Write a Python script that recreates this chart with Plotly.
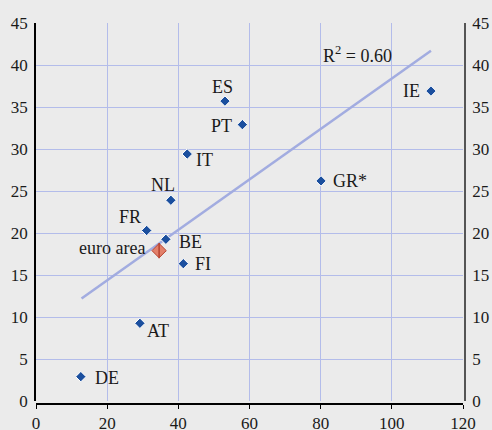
import plotly.graph_objects as go

# Data
countries = ["DE", "AT", "FR", "BE", "FI", "NL", "IT", "ES", "PT", "GR*", "IE"]
x_vals = [12.6, 29.2, 31.1, 36.5, 41.4, 37.9, 42.5, 53.1, 58.0, 80.1, 111.0]
y_vals = [2.9, 9.25, 20.3, 19.25, 16.35, 23.9, 29.4, 35.7, 32.9, 26.2, 36.9]

ea_label = ["euro area"]
ea_x = [34.6]
ea_y = [17.9]

trend_x = [12.8, 111.0]
trend_y = [12.2, 41.7]

r2_text = "R<sup>2</sup> = 0.60"
r2_pos = [90.4, 41.3]

x_ticks = [0, 20, 40, 60, 80, 100, 120]
y_ticks = [0, 5, 10, 15, 20, 25, 30, 35, 40, 45]

# label offsets in pixels (dx right, dy down)
label_offsets = {
    "DE": (26, 1), "AT": (18, 8), "FR": (-17, -13), "BE": (25, 3),
    "FI": (20, 0), "NL": (-8, -15), "IT": (17, 6), "ES": (-2, -14),
    "PT": (-21, 1), "GR*": (29, 0), "IE": (-19, 0),
}

FONT = "Liberation Serif"
FS = 18
TFS = 17
BG = "#EBEBEB"
GRID = "#B3BCEA"
BLUE = "#1B4F9E"
TXT = "#1a1a1a"

fig = go.Figure()

fig.add_trace(go.Scatter(
    x=trend_x, y=trend_y, mode="lines",
    line=dict(color="#A2ACE0", width=2.5), hoverinfo="skip", showlegend=False))

fig.add_trace(go.Scatter(
    x=x_vals, y=y_vals, mode="markers",
    marker=dict(symbol="diamond", size=8, color=BLUE,
                line=dict(color="white", width=1)),
    showlegend=False))

fig.add_trace(go.Scatter(
    x=ea_x, y=ea_y, mode="markers",
    marker=dict(symbol="diamond", size=11, color="#E2806A",
                line=dict(color="#B8422F", width=1)),
    showlegend=False))
fig.add_trace(go.Scatter(
    x=ea_x, y=ea_y, mode="markers",
    marker=dict(symbol="line-ns", size=11,
                line=dict(color="#B8422F", width=1.5)),
    showlegend=False, hoverinfo="skip"))

# dummy trace for right axis
fig.add_trace(go.Scatter(x=[0], y=[0], yaxis="y2", mode="markers",
                         marker=dict(opacity=0), showlegend=False, hoverinfo="skip"))

annotations = []
for c, xv, yv in zip(countries, x_vals, y_vals):
    dx, dy = label_offsets[c]
    annotations.append(dict(x=xv, y=yv, text=c, showarrow=False,
                            xanchor="center", yanchor="middle",
                            xshift=dx, yshift=-dy,
                            font=dict(family=FONT, size=FS, color=TXT)))
annotations.append(dict(x=ea_x[0], y=ea_y[0], text=ea_label[0], showarrow=False,
                        xanchor="right", yanchor="middle", xshift=-12, yshift=3,
                        font=dict(family=FONT, size=FS, color=TXT)))
annotations.append(dict(x=r2_pos[0], y=r2_pos[1], text=r2_text, showarrow=False,
                        xanchor="center", yanchor="middle",
                        font=dict(family=FONT, size=FS, color=TXT)))

fig.update_layout(
    width=492, height=430,
    paper_bgcolor=BG, plot_bgcolor=BG,
    margin=dict(l=36, r=27, t=23, b=26),
    showlegend=False,
    annotations=annotations,
    font=dict(family=FONT, size=FS, color=TXT),
    xaxis=dict(range=[0, 120], tickvals=x_ticks, domain=[0, 427/429],
               anchor="free", position=0, automargin=False,
               showgrid=True, gridcolor=GRID, gridwidth=1,
               zeroline=False, showline=True, linecolor="black", linewidth=1.5,
               ticks="outside", ticklen=4, tickcolor="black",
               ticklabelstandoff=0,
               tickfont=dict(family=FONT, size=TFS, color=TXT)),
    yaxis=dict(range=[0, 45], tickvals=y_ticks, domain=[3/381, 1],
               automargin=False,
               showgrid=True, gridcolor=GRID, gridwidth=1,
               zeroline=False, showline=True, linecolor="black", linewidth=1.5,
               ticks="", ticklabelstandoff=3,
               tickfont=dict(family=FONT, size=TFS, color=TXT)),
    yaxis2=dict(range=[0, 45], tickvals=y_ticks, overlaying="y", side="right",
                anchor="free", position=1, automargin=False,
                showgrid=False, zeroline=False, showline=True,
                linecolor="#555555", linewidth=1.5, ticks="",
                ticklabelstandoff=3,
                tickfont=dict(family=FONT, size=TFS, color=TXT)),
)

fig.write_html("out.html", config={"displayModeBar": False},
               post_script="document.body.style.margin='0';document.body.style.overflow='hidden';")
